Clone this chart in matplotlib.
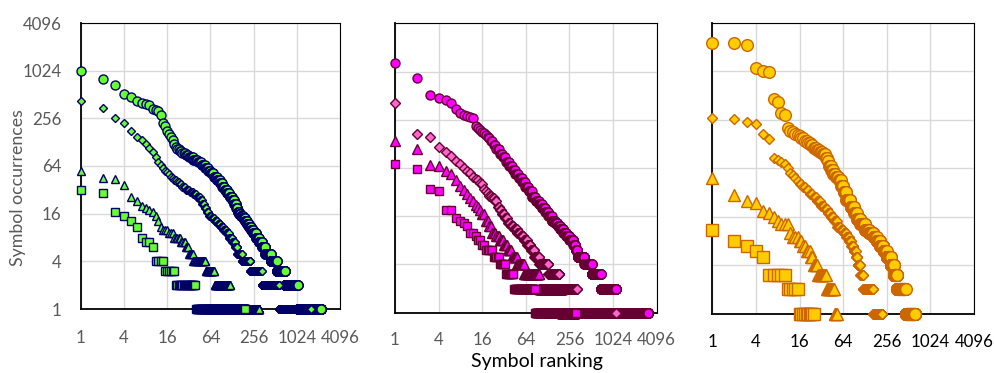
import numpy as np
import matplotlib
matplotlib.use("Agg")
import matplotlib.pyplot as plt

plt.rcParams['font.family'] = ['Lato', 'DejaVu Sans']

# Occurrence counts (descending) and the last rank holding each count.
# Ranks between the previous entry and "last" all share that count.

# ---- left panel ----
left_circle_counts = [1000, 810, 680, 520, 472, 420, 395, 390, 372, 340,
                      325, 315, 286, 225, 202, 175, 160, 150, 135, 122,
                      112, 106, 100, 94, 88, 82, 77, 72, 66, 60,
                      56, 52, 47, 43, 39, 35, 32, 29, 26, 24,
                      21, 19, 17, 16, 15, 14, 13, 12, 11, 10,
                      9, 8, 7, 6, 5, 4, 3, 2, 1]
left_circle_last = [1, 2, 3, 4, 5, 6, 7, 8, 9, 10,
                    11, 12, 13, 14, 15, 16, 17, 18, 19, 20,
                    21, 23, 25, 28, 31, 36, 42, 47, 53, 59,
                    64, 70, 78, 86, 93, 100, 108, 117, 128, 136,
                    145, 152, 160, 167, 180, 192, 205, 218, 235, 252,
                    275, 300, 335, 370, 443, 537, 700, 1050, 2230]

left_diamond_counts = [424, 350, 262, 224, 177, 149, 135, 120, 108, 95,
                       82, 72, 65, 60, 56, 53, 50, 47, 45, 42,
                       40, 38, 35, 32, 30, 28, 26, 24, 21, 19,
                       17, 15, 14, 13, 12, 11, 10, 9, 8, 7,
                       6, 5, 4, 3, 2, 1]
left_diamond_last = [1, 2, 3, 4, 5, 6, 7, 8, 9, 10,
                     11, 12, 13, 14, 15, 16, 17, 18, 19, 21,
                     23, 25, 28, 32, 36, 40, 45, 48, 52, 56,
                     60, 66, 72, 80, 88, 96, 105, 115, 128, 140,
                     150, 175, 228, 331, 577, 1600]

left_triangle_counts = [55, 45, 44, 37, 26, 23, 20, 19, 18, 17, 15, 13,
                        11, 10, 9, 8, 7, 6, 5, 4, 3, 2, 1]
left_triangle_last = [1, 2, 3, 4, 5, 6, 7, 8, 9, 10, 11, 12,
                      13, 16, 19, 24, 28, 31, 36, 54, 72, 120, 307]

left_square_counts = [32, 29, 17, 15, 13, 11, 8, 7, 6, 4, 3, 2, 1]
left_square_last = [1, 2, 3, 4, 5, 6, 7, 9, 10, 14, 20, 39, 194]

# ---- middle panel ----
mid_circle_counts = [1320, 840, 525, 485, 450, 409, 350, 310, 295, 285,
                     280, 268, 213, 200, 190, 182, 175, 165, 158, 150,
                     140, 125, 110, 97, 88, 77, 68, 60, 54, 48,
                     43, 37, 33, 28, 25, 23, 20, 18, 16, 14,
                     13, 12, 11, 10, 9, 8, 7, 6, 5, 4,
                     3, 2, 1]
mid_circle_last = [1, 2, 3, 4, 5, 6, 7, 8, 9, 10,
                   11, 12, 13, 14, 15, 16, 17, 18, 19, 20,
                   22, 24, 27, 30, 33, 37, 41, 45, 50, 56,
                   62, 69, 77, 86, 96, 106, 118, 130, 145, 160,
                   175, 190, 210, 230, 255, 290, 310, 330, 410, 519,
                   690, 1125, 3150]

mid_diamond_counts = [416, 169, 158, 116, 100, 90, 78, 72, 64, 58,
                      55, 50, 47, 45, 42, 40, 35, 33, 31, 29,
                      27, 25, 21, 19, 17, 15, 13, 12, 11, 10,
                      9, 8, 7, 6, 5, 4, 3, 2, 1]
mid_diamond_last = [1, 2, 3, 4, 5, 6, 7, 8, 9, 10,
                    11, 12, 13, 14, 15, 16, 17, 18, 19, 21,
                    23, 25, 27, 29, 32, 35, 39, 43, 48, 53,
                    59, 66, 74, 83, 97, 130, 186, 322, 1125]

mid_triangle_counts = [138, 110, 70, 67, 59, 54, 45, 38, 34, 30,
                       27, 25, 22, 21, 19, 17, 14, 12, 10, 9,
                       8, 7, 6, 5, 4, 3, 2, 1]
mid_triangle_last = [1, 2, 3, 4, 5, 6, 7, 8, 9, 10,
                     11, 12, 13, 14, 15, 17, 19, 21, 24, 27,
                     31, 35, 40, 48, 60, 97, 200, 300]

mid_square_counts = [72, 62, 35, 33, 19, 15, 14, 13, 12, 10,
                     9, 8, 7, 6, 5, 4, 3, 2, 1]
mid_square_last = [1, 2, 3, 4, 6, 7, 8, 9, 10, 12,
                   13, 15, 17, 22, 27, 33, 43, 85, 315]

# ---- right panel ----
right_circle_counts = [2320, 2300, 2150, 1130, 1040, 1010, 465, 428, 307, 292,
                       200, 185, 178, 170, 165, 160, 150, 140, 132, 124,
                       115, 108, 102, 96, 85, 78, 68, 61, 55, 50,
                       46, 38, 32, 26, 21, 18, 15, 13, 11, 10,
                       9, 8, 7, 6, 5, 4, 3, 2, 1]
right_circle_last = [1, 2, 3, 4, 5, 6, 7, 8, 9, 10,
                     11, 12, 13, 14, 15, 16, 18, 20, 22, 24,
                     27, 30, 33, 36, 38, 40, 43, 46, 50, 55,
                     59, 64, 70, 80, 90, 98, 110, 128, 145, 167,
                     185, 206, 230, 254, 290, 320, 355, 465, 630]

right_diamond_counts = [266, 264, 242, 228, 172, 146, 85, 81, 77, 72,
                        64, 56, 52, 48, 45, 41, 37, 34, 31, 28,
                        25, 22, 20, 18, 16, 14, 12, 11, 10, 9,
                        8, 7, 6, 5, 4, 3, 2, 1]
right_diamond_last = [1, 2, 3, 4, 5, 6, 7, 8, 9, 10,
                      11, 12, 13, 14, 15, 17, 19, 21, 24, 27,
                      31, 35, 38, 42, 47, 52, 58, 64, 70, 76,
                      82, 88, 95, 100, 110, 120, 165, 222]

right_triangle_counts = [49, 30, 25, 24, 19, 18, 16, 14, 13, 10,
                         9, 8, 7, 6, 5, 4, 3, 2, 1]
right_triangle_last = [1, 2, 3, 4, 5, 6, 7, 8, 11, 12,
                       15, 17, 19, 22, 24, 28, 37, 48, 52]

right_square_counts = [11, 8, 7, 6, 5, 3, 2, 1]
right_square_last = [1, 2, 3, 4, 5, 10, 15, 25]

tick_values = [1, 4, 16, 64, 256, 1024, 4096]
tick_labels = ['1', '4', '16', '64', '256', '1024', '4096']


def expand(counts, last_rank):
    """Turn (count, last rank) runs into one point per ranked symbol."""
    ranks, occ = [], []
    first = 1
    for c, last in zip(counts, last_rank):
        r = np.arange(first, last + 1)
        ranks.append(r)
        occ.append(np.full(r.size, c))
        first = last + 1
    return np.concatenate(ranks), np.concatenate(occ)


W, H = 995, 373
fig = plt.figure(figsize=(W / 100, H / 100), dpi=100)

panels = [
    dict(box=(81, 23, 340, 309), tick_color='#595959', ylabels=True, xpad=15,
         edge='#000066',
         series=[
             (left_circle_counts, left_circle_last, 'o', 6.5, '#66FF33'),
             (left_triangle_counts, left_triangle_last, '^', 6.2, '#66FF33'),
             (left_diamond_counts, left_diamond_last, 'D', 4.3, '#66FF33'),
             (left_square_counts, left_square_last, 's', 6.0, '#66FF33'),
         ]),
    dict(box=(395, 23.3, 656.7, 312.7), tick_color='#595959', ylabels=False, xpad=13.7,
         edge='#660033',
         series=[
             (mid_circle_counts, mid_circle_last, 'o', 6.5, '#FF00FF'),
             (mid_triangle_counts, mid_triangle_last, '^', 7.9, '#FF00FF'),
             (mid_diamond_counts, mid_diamond_last, 'D', 5.4, '#FF66CC'),
             (mid_square_counts, mid_square_last, 's', 6.3, '#FF00FF'),
         ]),
    dict(box=(712.3, 22.7, 974, 313.7), tick_color='black', ylabels=False, xpad=14.8,
         edge='#CC6600',
         series=[
             (right_circle_counts, right_circle_last, 'o', 8.4, '#FFCC00'),
             (right_triangle_counts, right_triangle_last, '^', 8.6, '#FFCC00'),
             (right_diamond_counts, right_diamond_last, 'D', 5.4, '#FFCC00'),
             (right_square_counts, right_square_last, 's', 8.7, '#FFCC00'),
         ]),
]

for p in panels:
    x0, y0, x1, y1 = p['box']
    ax = fig.add_axes([x0 / W, 1 - y1 / H, (x1 - x0) / W, (y1 - y0) / H])
    ax.set_xscale('log', base=2)
    ax.set_yscale('log', base=2)
    ax.set_xlim(1, 4096)
    ax.set_ylim(1, 4096)
    ax.set_xticks(tick_values)
    ax.set_xticklabels(tick_labels)
    ax.set_yticks(tick_values)
    ax.set_yticklabels(tick_labels if p['ylabels'] else [])
    ax.minorticks_off()
    ax.tick_params(axis='x', length=0, pad=p['xpad'], labelsize=12.2,
                   labelcolor=p['tick_color'])
    ax.tick_params(axis='y', length=0, pad=13.9, labelsize=12.2,
                   labelcolor=p['tick_color'])
    ax.grid(True, color='#D9D9D9', linewidth=1.0)
    ax.set_axisbelow(True)
    for side in ('top', 'right'):
        ax.spines[side].set_linewidth(0.8)
        ax.spines[side].set_color('black')
    for side in ('left', 'bottom'):
        ax.spines[side].set_linewidth(1.3)
        ax.spines[side].set_color('black')

    for counts, last, marker, size, fill in p['series']:
        r, c = expand(counts, last)
        ax.plot(r, c, linestyle='none', marker=marker, markersize=size,
                markerfacecolor=fill, markeredgecolor=p['edge'],
                markeredgewidth=1.0, clip_on=False, zorder=3)

fig.text(18 / W, 1 - 188 / H, 'Symbol occurrences', rotation=90,
         ha='center', va='center', fontsize=12.8, color='#595959')
fig.text(537 / W, 1 - 362 / H, 'Symbol ranking',
         ha='center', va='center', fontsize=14, color='black')

fig.savefig('out.png', dpi=100)
